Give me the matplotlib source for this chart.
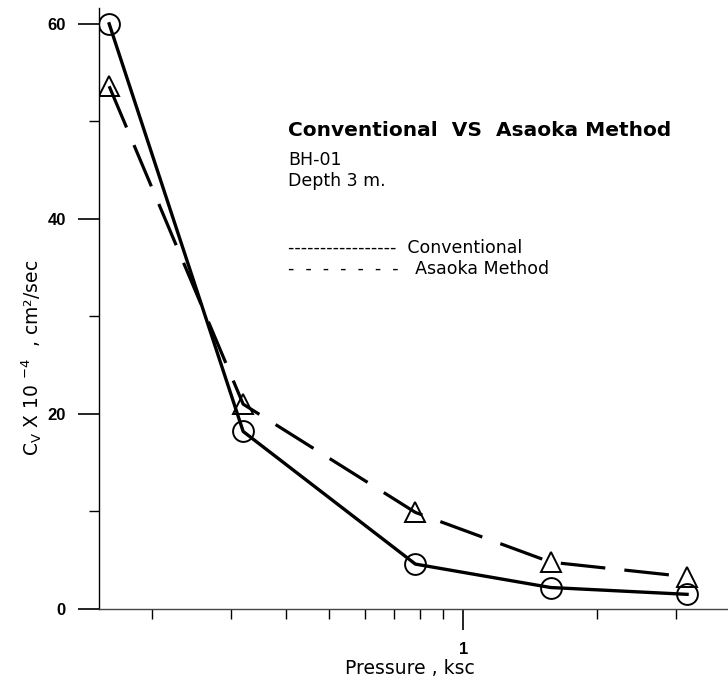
import matplotlib
matplotlib.use("Agg")
import matplotlib.pyplot as plt
from matplotlib.ticker import FixedLocator, NullFormatter, FixedFormatter

plt.rcParams['font.family'] = ['Liberation Sans', 'DejaVu Sans']
plt.rcParams['mathtext.fontset'] = 'custom'
plt.rcParams['mathtext.rm'] = 'DejaVu Sans'

# Data
pressure = [0.16, 0.32, 0.78, 1.57, 3.18]
cv_conventional = [60.0, 18.2, 4.6, 2.2, 1.5]
cv_asaoka = [53.6, 21.0, 9.9, 4.8, 3.3]

x_major = [1]
x_major_labels = ["1"]
x_minor = [0.2, 0.3, 0.4, 0.5, 0.6, 0.7, 0.8, 0.9, 2, 3]
y_major = [0, 20, 40, 60]
y_minor = [10, 30, 50]

WIDE = ['DejaVu Sans']

fig = plt.figure(figsize=(7.28, 6.85), dpi=100)
ax = fig.add_axes([0.136, 0.111, 0.864, 0.877])

ax.plot(pressure, cv_conventional, color='black', lw=2.4, marker='o',
        markersize=15, markerfacecolor='none', markeredgecolor='black',
        markeredgewidth=1.4, zorder=3)
line_a, = ax.plot(pressure, cv_asaoka, color='black', lw=2.3, marker='^',
                  markersize=14, markerfacecolor='none', markeredgecolor='black',
                  markeredgewidth=1.4, zorder=3)
line_a.set_dashes((14, 6))

ax.set_xscale('log')
ax.set_xlim(0.1518, 3.93)
ax.set_ylim(0, 61.6)

ax.xaxis.set_major_locator(FixedLocator(x_major))
ax.xaxis.set_major_formatter(FixedFormatter(x_major_labels))
ax.xaxis.set_minor_locator(FixedLocator(x_minor))
ax.xaxis.set_minor_formatter(NullFormatter())
ax.yaxis.set_major_locator(FixedLocator(y_major))
ax.yaxis.set_minor_locator(FixedLocator(y_minor))

for s in ['top', 'right']:
    ax.spines[s].set_visible(False)
ax.spines['left'].set_linewidth(1.0)
ax.spines['bottom'].set_linewidth(1.0)
ax.spines['bottom'].set_color('#444444')

ax.tick_params(axis='both', which='major', direction='out', length=15, width=1.2,
               labelsize=12, pad=9)
ax.tick_params(axis='both', which='minor', direction='out', length=7, width=1.0)
for lab in ax.get_xticklabels() + ax.get_yticklabels():
    lab.set_fontweight('bold')

fig.text(410 / 728, 1 - 669 / 685, "Pressure , ksc", ha='center', va='center',
         fontsize=13.5, family=WIDE)
fig.text(32 / 728, 1 - 358 / 685, r"C$_\mathregular{V}$ X 10 $^\mathregular{-4}$  , cm²/sec",
         ha='center', va='center', rotation=90, fontsize=13.5, family=WIDE)

fig.text(288 / 728, 1 - 131 / 685, "Conventional  VS  Asaoka Method", ha='left', va='center',
         fontsize=14.5, fontweight='bold', family=WIDE)
fig.text(288 / 728, 1 - 160 / 685, "BH-01", ha='left', va='center', fontsize=12.5, family=WIDE)
fig.text(288 / 728, 1 - 181 / 685, "Depth 3 m.", ha='left', va='center', fontsize=12.5, family=WIDE)
fig.text(288 / 728, 1 - 248 / 685, "-----------------  Conventional", ha='left', va='center',
         fontsize=12.5, family=WIDE)
fig.text(288 / 728, 1 - 269 / 685, "-  -  -  -  -  -  -   Asaoka Method", ha='left', va='center',
         fontsize=12.5, family=WIDE)

fig.savefig("out.png", dpi=100)
